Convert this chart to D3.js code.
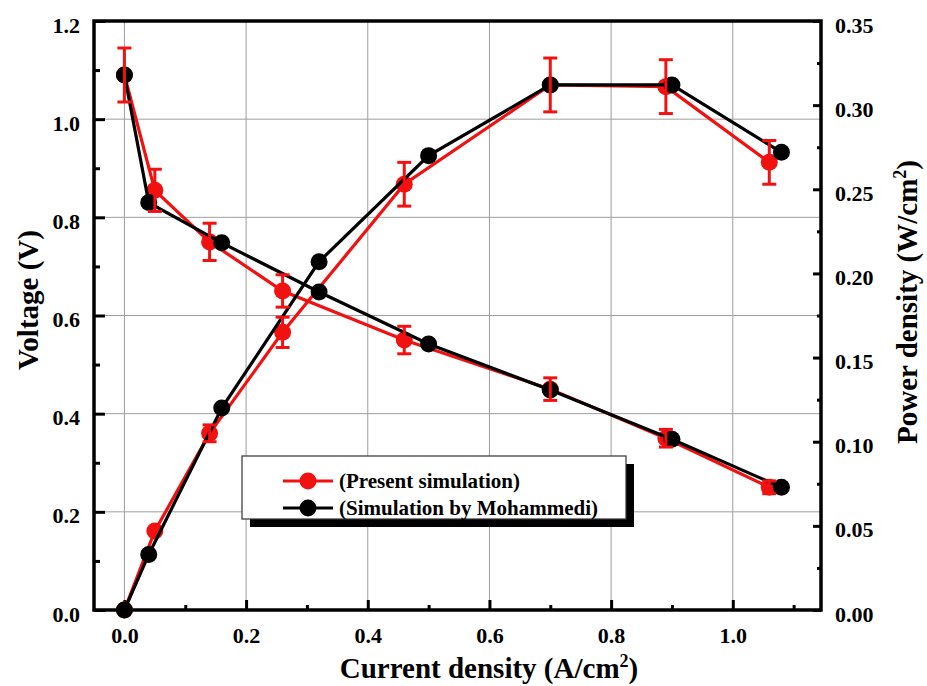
<!DOCTYPE html>
<html><head><meta charset="utf-8">
<script src="https://cdn.jsdelivr.net/npm/d3@7"></script>
<style>body{margin:0;background:#fff}svg{display:block}text{font-family:"Liberation Serif","Times New Roman",serif;font-weight:bold}</style>
</head><body><svg id="c" width="927" height="686"></svg>
<script>
// Present simulation (red)
const redX = [0.0, 0.05, 0.14, 0.26, 0.46, 0.70, 0.89, 1.06];
const redV = [1.09, 0.855, 0.75, 0.65, 0.55, 0.45, 0.35, 0.25];
const redVErr = [0.055, 0.043, 0.038, 0.033, 0.028, 0.023, 0.018, 0.013];
const redP = [0.0, 0.047, 0.105, 0.165, 0.253, 0.312, 0.311, 0.266];
const redPErr = [0.0, 0.002, 0.005, 0.009, 0.013, 0.016, 0.016, 0.013];
// Simulation by Mohammedi (black)
const blkX = [0.0, 0.04, 0.16, 0.32, 0.50, 0.70, 0.90, 1.08];
const blkV = [1.09, 0.83, 0.748, 0.648, 0.542, 0.448, 0.348, 0.25];
const blkP = [0.0, 0.033, 0.12, 0.207, 0.27, 0.312, 0.312, 0.272];
const xTicks = [0.0, 0.2, 0.4, 0.6, 0.8, 1.0];
const yLeftTicks = [0.0, 0.2, 0.4, 0.6, 0.8, 1.0, 1.2];
const yRightTicks = [0.0, 0.05, 0.10, 0.15, 0.20, 0.25, 0.30, 0.35];
const legendLabels = ["(Present simulation)", "(Simulation by Mohammedi)"];
const RED = "#f21111", BLK = "#000";

const svg = d3.select("#c");
const L = 94, R = 821, T = 21, B = 610;
const x = d3.scaleLinear().domain([-0.05, 1.145]).range([L, R]);
const yL = d3.scaleLinear().domain([0, 1.2]).range([B, T]);
const yR = d3.scaleLinear().domain([0, 0.35]).range([B, T]);

// grid
const g = svg.append("g");
g.selectAll(".gx").data(xTicks).join("line")
  .attr("x1", d => x(d)).attr("x2", d => x(d)).attr("y1", T).attr("y2", B)
  .attr("stroke", "#9e9e9e").attr("stroke-width", 1);
g.selectAll(".gy").data(yLeftTicks.slice(1, -1)).join("line")
  .attr("x1", L).attr("x2", R).attr("y1", d => yL(d)).attr("y2", d => yL(d))
  .attr("stroke", "#9e9e9e").attr("stroke-width", 1);

// axes (ticks inward)
const fmt1 = d3.format(".1f"), fmt2 = d3.format(".2f");
const axB = d3.axisBottom(x).tickValues(xTicks).tickSize(-10).tickPadding(17).tickFormat(fmt1);
const axBm = d3.axisBottom(x).tickValues([0.1,0.3,0.5,0.7,0.9,1.1]).tickSize(-5).tickFormat("");
const axLf = d3.axisLeft(yL).tickValues(yLeftTicks).tickSize(-11).tickPadding(14).tickFormat(fmt1);
const axLm = d3.axisLeft(yL).tickValues([0.1,0.3,0.5,0.7,0.9,1.1]).tickSize(-6).tickFormat("");
const axRt = d3.axisRight(yR).tickValues(yRightTicks).tickSize(-8).tickPadding(14).tickFormat(fmt2);
const axRm = d3.axisRight(yR).tickValues([0.025,0.075,0.125,0.175,0.225,0.275,0.325]).tickSize(-4).tickFormat("");

function styleAxis(sel, vert){
  sel.select(".domain").remove();
  sel.selectAll(".tick line").attr("stroke","#000").attr("stroke-width",3);
  const t = sel.selectAll(".tick text").attr("fill","#000").style("font-size","22px")
    .style("font-family",'"Liberation Serif",serif').style("font-weight","bold");
  if (vert) t.attr("dy","0.5em");
}
svg.append("g").attr("transform",`translate(0,${B})`).call(axB).call(styleAxis,false);
svg.append("g").attr("transform",`translate(0,${B})`).call(axBm).call(styleAxis,false);
svg.append("g").attr("transform",`translate(${L},0)`).call(axLf).call(styleAxis,true);
svg.append("g").attr("transform",`translate(${L},0)`).call(axLm).call(styleAxis,true);
svg.append("g").attr("transform",`translate(${R},0)`).call(axRt).call(styleAxis,true);
svg.append("g").attr("transform",`translate(${R},0)`).call(axRm).call(styleAxis,true);

// frame
svg.append("rect").attr("x",L).attr("y",T).attr("width",R-L).attr("height",B-T)
  .attr("fill","none").attr("stroke","#000").attr("stroke-width",3.5);

// series
const mk = (xs, ys, ysc) => xs.map((v,i)=>[x(v), ysc(ys[i])]);
const line = d3.line();
function drawSeries(xs, ys, ysc, col){
  svg.append("path").attr("d", line(mk(xs,ys,ysc))).attr("fill","none").attr("stroke",col).attr("stroke-width",3.2);
}
function drawPts(xs, ys, ysc, col){
  svg.append("g").selectAll("circle").data(xs).join("circle")
    .attr("cx",(d)=>x(d)).attr("cy",(d,i)=>ysc(ys[i])).attr("r",8.5).attr("fill",col);
}
function drawErr(xs, ys, es, ysc, col){
  const ge = svg.append("g").attr("stroke",col).attr("stroke-width",3);
  xs.forEach((d,i)=>{
    if(es[i] <= 0.003) return;
    const cx = x(d), y1 = ysc(ys[i]+es[i]), y2 = ysc(ys[i]-es[i]);
    ge.append("line").attr("x1",cx).attr("x2",cx).attr("y1",y1).attr("y2",y2);
    ge.append("line").attr("x1",cx-7).attr("x2",cx+7).attr("y1",y1).attr("y2",y1);
    ge.append("line").attr("x1",cx-7).attr("x2",cx+7).attr("y1",y2).attr("y2",y2);
  });
}
drawSeries(redX, redV, yL, RED);
drawSeries(redX, redP, yR, RED);
drawPts(redX, redV, yL, RED);
drawPts(redX, redP, yR, RED);
drawSeries(blkX, blkV, yL, BLK);
drawSeries(blkX, blkP, yR, BLK);
drawPts(blkX, blkV, yL, BLK);
drawPts(blkX, blkP, yR, BLK);
drawErr(redX, redV, redVErr, yL, RED);
drawErr(redX, redP, redPErr, yR, RED);

// legend
const lg = svg.append("g");
lg.append("rect").attr("x",250).attr("y",464).attr("width",384).attr("height",63).attr("fill","#000");
lg.append("rect").attr("x",242).attr("y",456).attr("width",384).attr("height",63).attr("fill","#fff").attr("stroke","#333").attr("stroke-width",1.2);
[RED, BLK].forEach((col,i)=>{
  const yy = 481 + i*27;
  lg.append("line").attr("x1",283).attr("x2",333).attr("y1",yy).attr("y2",yy).attr("stroke",col).attr("stroke-width",3.2);
  lg.append("circle").attr("cx",308).attr("cy",yy).attr("r",8.5).attr("fill",col);
  lg.append("text").attr("x",339).attr("y",yy+7).style("font-size","21px").attr("fill","#000").text(legendLabels[i]);
});

// axis titles
const xt = svg.append("text").attr("x",489).attr("y",678).attr("text-anchor","middle").style("font-size","29px");
xt.append("tspan").text("Current density (A/cm");
xt.append("tspan").attr("dy",-11).style("font-size","18px").text("2");
xt.append("tspan").attr("dy",11).text(")");

svg.append("text").attr("transform","translate(38,300) rotate(-90)").attr("text-anchor","middle").style("font-size","29px").text("Voltage (V)");

const yt = svg.append("text").attr("transform","translate(917,302) rotate(-90)").attr("text-anchor","middle").style("font-size","29px");
yt.append("tspan").text("Power density (W/cm");
yt.append("tspan").attr("dy",-11).style("font-size","18px").text("2");
yt.append("tspan").attr("dy",11).text(")");
</script></body></html>
